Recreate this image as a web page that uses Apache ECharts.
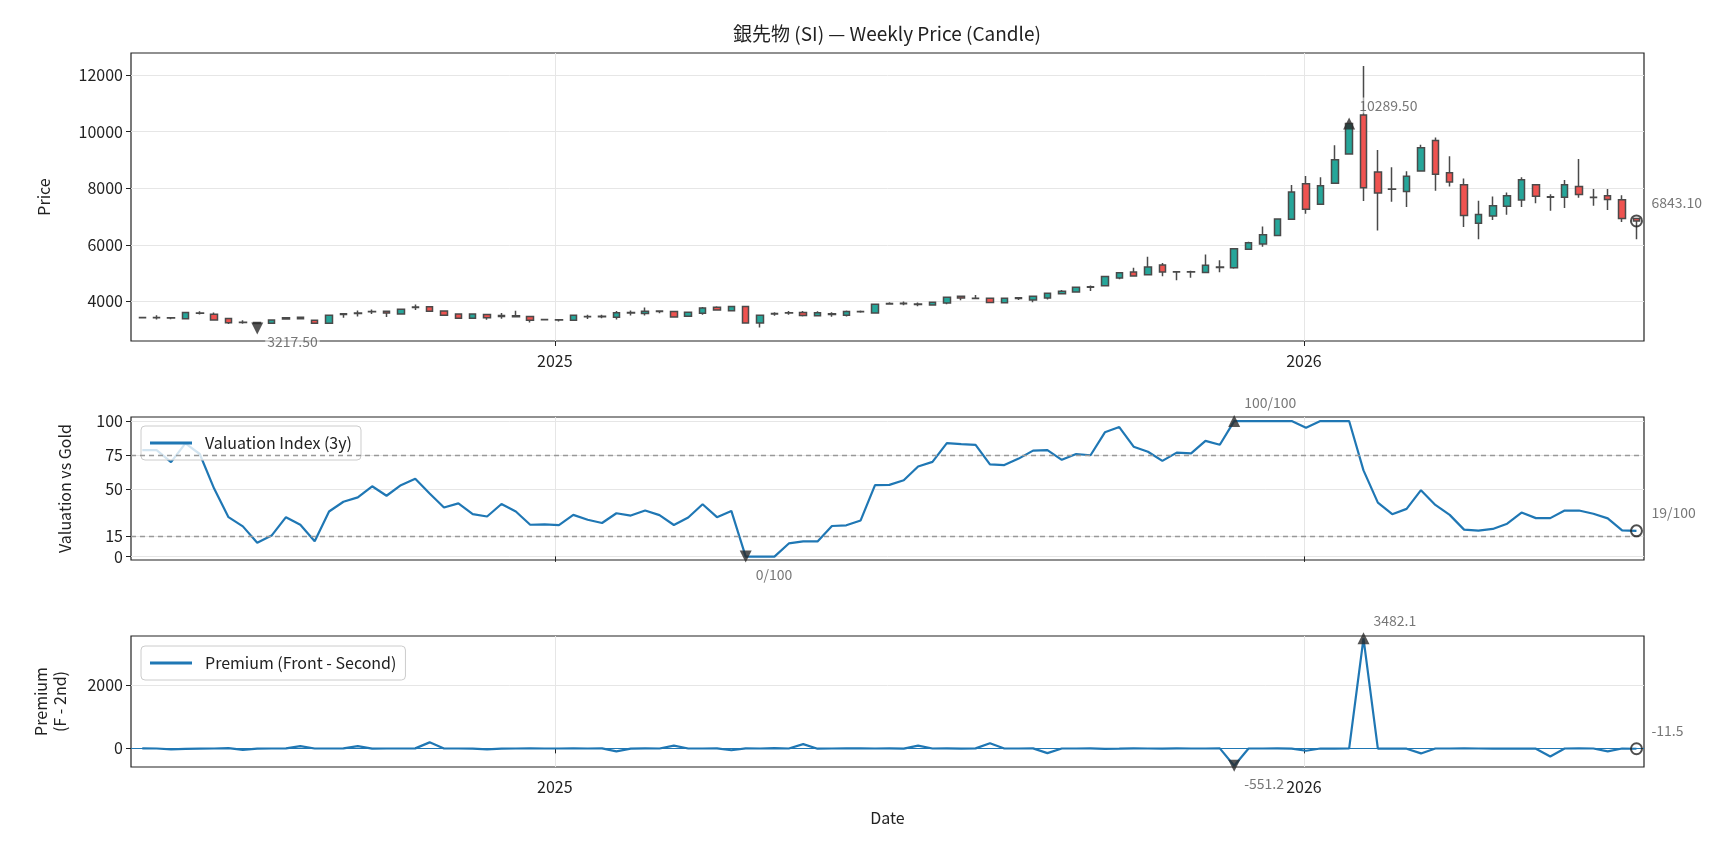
<!DOCTYPE html>
<html>
<head>
<meta charset="utf-8">
<script src="https://cdn.jsdelivr.net/npm/echarts@6/dist/echarts.min.js"></script>
<style>
  html, body { margin: 0; padding: 0; background: #fff; }
  #chart { width: 1728px; height: 849px; }
</style>
</head>
<body>
<div id="chart"></div>
<script>
// weekly bars, one per Friday starting here
const START_DATE = '2024-06-14';
const yearTicks = ['2025-01-01', '2026-01-01'];
const priceTicks = [4000, 6000, 8000, 10000, 12000];
const valTicks = [0, 15, 50, 75, 100];
const premTicks = [0, 2000];
const valBands = [15, 75];

// [open, close, low, high]
const candles = [
  [3430, 3420, 3405, 3440], [3425, 3435, 3360, 3510], [3420, 3410, 3370, 3430], [3390, 3610, 3380, 3620],
  [3580, 3590, 3540, 3650], [3545, 3345, 3335, 3610], [3395, 3245, 3200, 3400], [3260, 3250, 3210, 3330],
  [3250, 3217.5, 3190, 3270], [3225, 3340, 3215, 3355], [3380, 3420, 3370, 3430], [3440, 3390, 3375, 3445],
  [3330, 3230, 3220, 3340], [3225, 3510, 3220, 3520], [3535, 3560, 3420, 3580], [3575, 3590, 3470, 3680],
  [3630, 3645, 3550, 3710], [3650, 3590, 3445, 3660], [3555, 3725, 3540, 3740], [3780, 3800, 3700, 3890],
  [3810, 3650, 3640, 3830], [3660, 3510, 3500, 3690], [3550, 3400, 3380, 3560], [3400, 3550, 3390, 3560],
  [3540, 3420, 3350, 3550], [3470, 3500, 3390, 3590], [3490, 3460, 3430, 3670], [3470, 3330, 3255, 3480],
  [3360, 3350, 3340, 3370], [3350, 3345, 3290, 3360], [3330, 3510, 3320, 3530], [3455, 3470, 3375, 3530],
  [3460, 3475, 3400, 3530], [3440, 3600, 3360, 3660], [3590, 3610, 3500, 3680], [3570, 3650, 3500, 3780],
  [3640, 3660, 3580, 3690], [3640, 3450, 3440, 3660], [3475, 3615, 3465, 3625], [3580, 3770, 3530, 3800],
  [3790, 3700, 3680, 3830], [3665, 3820, 3655, 3830], [3820, 3235, 3225, 3830], [3240, 3510, 3080, 3520],
  [3550, 3570, 3490, 3620], [3590, 3600, 3530, 3660], [3610, 3500, 3470, 3660], [3490, 3600, 3470, 3650],
  [3540, 3560, 3460, 3620], [3510, 3640, 3470, 3680], [3630, 3640, 3600, 3680], [3590, 3900, 3580, 3910],
  [3905, 3925, 3880, 3970], [3920, 3935, 3860, 4000], [3910, 3890, 3830, 3960], [3870, 3970, 3850, 3990],
  [3945, 4150, 3900, 4170], [4180, 4120, 4040, 4200], [4100, 4110, 4095, 4230], [4110, 3960, 3935, 4120],
  [3950, 4110, 3940, 4120], [4100, 4130, 4050, 4150], [4050, 4180, 3970, 4190], [4120, 4290, 4070, 4310],
  [4270, 4360, 4260, 4400], [4330, 4500, 4320, 4510], [4500, 4520, 4370, 4560], [4550, 4880, 4540, 4890],
  [4830, 5010, 4780, 5020], [5040, 4900, 4880, 5190], [4940, 5220, 4930, 5580], [5290, 5040, 4890, 5360],
  [5040, 5045, 4750, 5050], [5040, 5050, 4840, 5080], [5020, 5280, 5000, 5660], [5200, 5220, 5030, 5450],
  [5190, 5860, 5150, 5870], [5840, 6070, 5830, 6110], [6030, 6360, 5930, 6650], [6330, 6910, 6320, 6920],
  [6900, 7870, 6900, 8110], [8160, 7260, 7100, 8430], [7430, 8090, 7410, 8390], [8180, 9010, 8170, 9520],
  [9210, 10289.5, 9200, 10300], [10590, 8020, 7550, 12320], [8570, 7830, 6510, 9350], [7960, 7970, 7520, 8740],
  [7880, 8420, 7340, 8600], [8610, 9430, 8600, 9540], [9690, 8490, 7910, 9790], [8550, 8220, 8060, 9130],
  [8120, 7040, 6630, 8340], [6760, 7070, 6200, 7560], [7020, 7380, 6880, 7710], [7360, 7730, 7060, 7850],
  [7580, 8300, 7340, 8390], [8120, 7720, 7470, 8130], [7680, 7700, 7200, 7790], [7680, 8120, 7300, 8290],
  [8060, 7780, 7660, 9030], [7670, 7680, 7380, 7970], [7730, 7600, 7230, 7970], [7590, 6930, 6810, 7750],
  [6930, 6843.1, 6200, 6960]
];

const valuation = [
  78.6, 78.6, 69.7, 83.5, 75.7, 50.2, 29.1, 22.3, 10.2, 15.5,
  29.1, 23.5, 11.4, 33.3, 40.5, 43.7, 51.9, 44.9, 52.7, 57.5,
  46.6, 36.2, 39.3, 31.3, 29.6, 38.8, 33.3, 23.5, 23.8, 23.3,
  30.8, 27.2, 24.8, 32.0, 30.3, 34.0, 30.6, 23.3, 28.9, 38.6,
  29.1, 33.7, 0, 0, 0, 9.7, 11.2, 11.2, 22.6, 23.1,
  26.7, 52.7, 52.9, 56.3, 66.5, 69.9, 83.7, 83.0, 82.5, 68.0,
  67.5, 72.3, 78.2, 78.6, 71.4, 75.7, 74.8, 91.7, 95.6, 81.1,
  77.4, 70.6, 76.7, 76.2, 85.4, 82.5, 100, 100, 100, 100,
  100, 95.1, 100, 100, 100, 63.6, 39.8, 31.3, 35.2, 49.0,
  38.1, 30.8, 19.9, 19.2, 20.4, 24.3, 32.5, 28.4, 28.4, 34.0,
  34.0, 31.6, 28.2, 19.4, 19
];

const premium = [
  0, -5, -30, -15, -10, -5, 5, -50, -10, -5,
  0, 70, -5, -5, 0, 70, -10, -5, -5, 0,
  190, -5, -5, -10, -30, -10, -5, 0, -5, -5,
  0, -5, 0, -95, -10, 0, -5, 85, -5, -5,
  0, -60, 0, -5, 5, -5, 135, -10, -5, 0,
  0, -5, 0, -10, 85, -5, 0, -10, 0, 160,
  -5, -5, 0, -150, -5, -5, 0, -15, -10, 0,
  -5, -10, 0, -5, -5, 0, -551.2, -5, -5, 0,
  -10, -75, -5, -10, -5, 3482.1, -10, -5, -10, -160,
  -5, -5, 0, -5, -10, -10, -5, -10, -260, -5,
  0, -5, -95, -5, -11.5
];

const dates = [];
let day = new Date(START_DATE + 'T00:00:00Z');
for (let i = 0; i < candles.length; i++) {
  dates.push(day.toISOString().slice(0, 10));
  day = new Date(day.getTime() + 7 * 86400000);
}

const FONT = "'Noto Sans CJK JP', 'Noto Sans', sans-serif";
const INK = '#222';
const GRID = '#e6e6e6';
const BLUE = '#1f77b4';

function argMin(a) { let k = 0; a.forEach((v, i) => { if (v < a[k]) k = i; }); return k; }
function argMax(a) { let k = 0; a.forEach((v, i) => { if (v > a[k]) k = i; }); return k; }

function mark(i, value, kind, text, lift) {
  const last = kind === 'last';
  return {
    value: [dates[i], value],
    symbol: last ? 'circle' : 'triangle',
    symbolRotate: kind === 'min' ? 180 : 0,
    symbolSize: last ? 11 : 12,
    symbolOffset: [0, lift || 0],
    itemStyle: last
      ? { color: 'rgba(255,255,255,0)', borderColor: INK, borderWidth: 2 }
      : { color: '#2b2b2b' },
    label: {
      show: true,
      formatter: text,
      position: 'inside',
      align: 'left',
      verticalAlign: 'middle',
      offset: [last ? 13 : 8, kind === 'min' ? 18 - (lift || 0) : -18],
      color: '#555',
      fontSize: 14,
      fontFamily: FONT,
      backgroundColor: 'rgba(255,255,255,0.7)',
      padding: [1, 2]
    }
  };
}

const closes = candles.map(c => c[1]);
const n = candles.length - 1;
const cMin = argMin(closes), cMax = argMax(closes);
const vMin = argMin(valuation), vMax = argMax(valuation);
const pMin = argMin(premium), pMax = argMax(premium);

function xAxis(gridIndex, labels, name) {
  return {
    type: 'time',
    gridIndex,
    min: '2024-06-08 12:00',
    max: '2026-06-15 16:00',
    name: name || '',
    nameLocation: 'middle',
    nameGap: 43,
    nameTextStyle: { color: INK, fontSize: 16, fontFamily: FONT },
    axisLine: { show: false },
    axisTick: { show: true, customValues: yearTicks, length: 5, lineStyle: { color: INK, width: 1 } },
    axisLabel: {
      show: labels, customValues: yearTicks, formatter: '{yyyy}', margin: 12,
      color: INK, fontSize: 16, fontFamily: FONT
    },
    splitLine: { show: true, lineStyle: { color: GRID, width: 1 } }
  };
}

function yAxis(gridIndex, min, max, ticks, name, gap) {
  return {
    type: 'value',
    gridIndex,
    min, max,
    name,
    nameLocation: 'middle',
    nameGap: gap,
    nameTextStyle: { color: INK, fontSize: 16, fontFamily: FONT, lineHeight: 19 },
    axisLine: { show: false },
    axisTick: { show: true, customValues: ticks, length: 5, lineStyle: { color: INK, width: 1 } },
    axisLabel: {
      customValues: ticks, margin: 8, color: INK, fontSize: 16, fontFamily: FONT,
      formatter: v => String(v)
    },
    splitLine: { show: true, lineStyle: { color: GRID, width: 1 } }
  };
}

function legendBox(name, top) {
  return {
    data: [name],
    left: 141,
    top,
    icon: 'rect',
    itemWidth: 42,
    itemHeight: 3,
    padding: [9, 9],
    backgroundColor: 'rgba(255,255,255,0.8)',
    borderColor: '#cccccc',
    borderWidth: 1,
    borderRadius: 4,
    textStyle: { color: INK, fontSize: 16, fontFamily: FONT, padding: [0, 0, 0, 8] }
  };
}

const option = {
  animation: false,
  backgroundColor: '#fff',
  textStyle: { fontFamily: FONT },
  graphic: [{
    type: 'text', x: 887, y: 34,
    style: {
      text: '銀先物 (SI) — Weekly Price (Candle)',
      fill: INK, fontSize: 19, fontFamily: FONT, align: 'center', verticalAlign: 'middle'
    }
  }],
  legend: [
    legendBox('Valuation Index (3y)', 426),
    legendBox('Premium (Front - Second)', 646)
  ],
  grid: [
    { left: 131, right: 84, top: 53, height: 288, show: true, borderColor: INK, borderWidth: 1.2, backgroundColor: 'transparent' },
    { left: 131, right: 84, top: 417, height: 143, show: true, borderColor: INK, borderWidth: 1.2, backgroundColor: 'transparent' },
    { left: 131, right: 84, top: 636, height: 131, show: true, borderColor: INK, borderWidth: 1.2, backgroundColor: 'transparent' }
  ],
  xAxis: [
    xAxis(0, true),
    xAxis(1, false),
    xAxis(2, true, 'Date')
  ],
  yAxis: [
    yAxis(0, 2600, 12780, priceTicks, 'Price', 78),
    yAxis(1, -2.5, 103, valTicks, 'Valuation vs Gold', 57),
    yAxis(2, -590, 3557, premTicks, 'Premium\n(F - 2nd)', 62)
  ],
  series: [
    {
      name: 'Weekly',
      type: 'candlestick',
      xAxisIndex: 0, yAxisIndex: 0,
      barWidth: 7,
      encode: { x: 0, y: [1, 2, 3, 4] },
      data: candles.map((c, i) => [dates[i], c[0], c[1], c[2], c[3]]),
      itemStyle: {
        color: '#26a69a', color0: '#ef5350',
        borderColor: '#4a4a4a', borderColor0: '#4a4a4a', borderWidth: 1.5
      }
    },
    {
      name: 'price-marks',
      type: 'scatter',
      xAxisIndex: 0, yAxisIndex: 0,
      z: 5,
      data: [
        mark(cMin, closes[cMin], 'min', closes[cMin].toFixed(2), 5),
        mark(cMax, closes[cMax], 'max', closes[cMax].toFixed(2)),
        mark(n, closes[n], 'last', closes[n].toFixed(2))
      ]
    },
    {
      name: 'Valuation Index (3y)',
      type: 'line',
      xAxisIndex: 1, yAxisIndex: 1,
      showSymbol: false,
      lineStyle: { color: BLUE, width: 2.2 },
      itemStyle: { color: BLUE },
      data: valuation.map((v, i) => [dates[i], v]),
      markLine: {
        silent: true, symbol: 'none', label: { show: false },
        lineStyle: { color: '#999', type: [5, 4], width: 1.3 },
        data: valBands.map(v => ({ yAxis: v }))
      }
    },
    {
      name: 'val-marks',
      type: 'scatter',
      xAxisIndex: 1, yAxisIndex: 1,
      z: 5,
      data: [
        mark(vMin, valuation[vMin], 'min', Math.round(valuation[vMin]) + '/100'),
        mark(vMax, valuation[vMax], 'max', Math.round(valuation[vMax]) + '/100'),
        mark(n, valuation[n], 'last', Math.round(valuation[n]) + '/100')
      ]
    },
    {
      name: 'Premium (Front - Second)',
      type: 'line',
      xAxisIndex: 2, yAxisIndex: 2,
      showSymbol: false,
      lineStyle: { color: BLUE, width: 2.2 },
      itemStyle: { color: BLUE },
      data: premium.map((v, i) => [dates[i], v]),
      markLine: {
        silent: true, symbol: 'none', label: { show: false },
        lineStyle: { color: BLUE, type: 'solid', width: 1.2 },
        data: [{ yAxis: 0 }]
      }
    },
    {
      name: 'prem-marks',
      type: 'scatter',
      xAxisIndex: 2, yAxisIndex: 2,
      z: 5,
      data: [
        mark(pMax, premium[pMax], 'max', premium[pMax].toFixed(1)),
        mark(pMin, premium[pMin], 'min', premium[pMin].toFixed(1)),
        mark(n, premium[n], 'last', premium[n].toFixed(1))
      ]
    }
  ]
};

const chart = echarts.init(document.getElementById('chart'));
chart.setOption(option);
</script>
</body>
</html>
